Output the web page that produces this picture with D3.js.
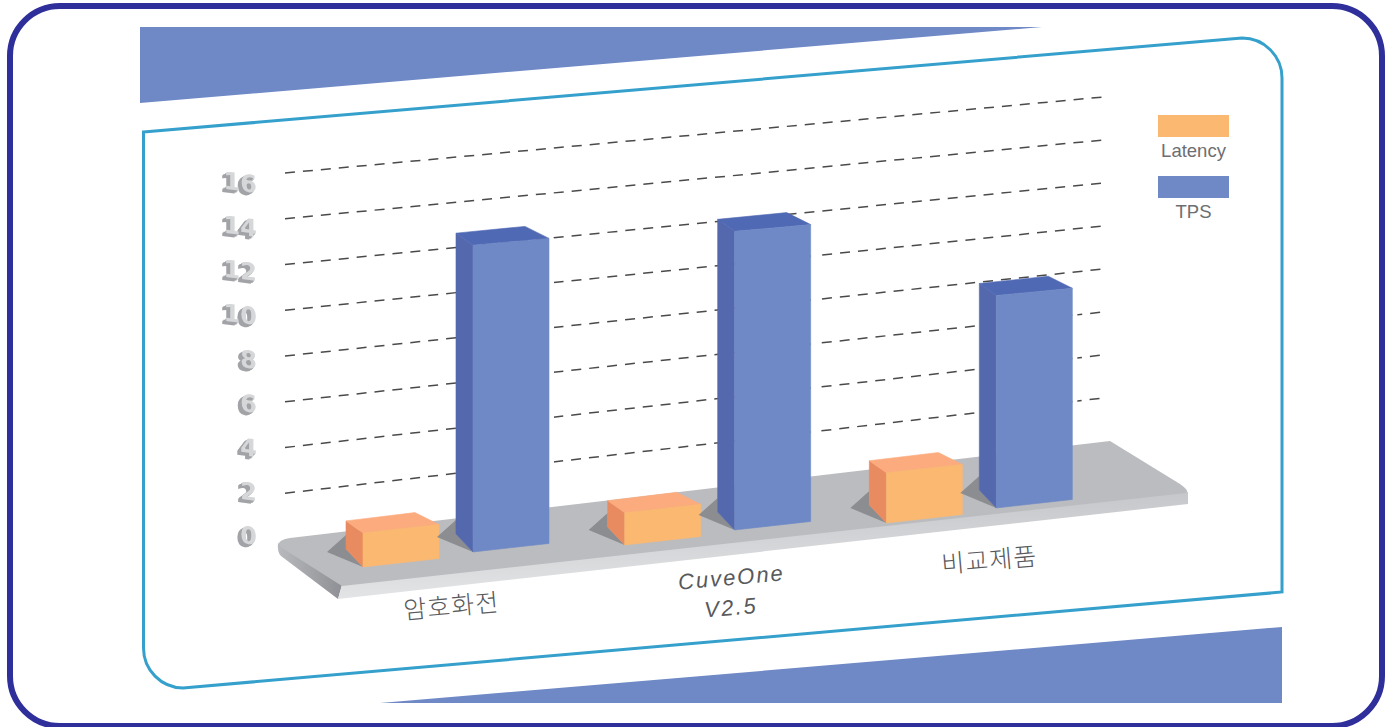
<!DOCTYPE html>
<html lang="ko">
<head>
<meta charset="utf-8">
<script src="https://cdn.jsdelivr.net/npm/d3@7"></script>
<style>
  html, body { margin: 0; padding: 0; background: #fff; }
  svg { display: block; }
  .grid { fill: none; stroke: #4a4a4a; stroke-width: 1.5; stroke-dasharray: 10 8; }
  .cat { font-family: "Noto Sans CJK KR", "Liberation Sans", sans-serif; font-size: 25px; font-weight: 300; fill: #58595b; text-anchor: middle; }
  .legend { font-family: "Liberation Sans", sans-serif; font-size: 18.5px; fill: #6d6e71; text-anchor: middle; }
</style>
</head>
<body>
<svg id="chart" width="1390" height="727"></svg>
<script>
const categories = ["암호화전", "CuveOne V2.5", "비교제품"];
const seriesNames = ["Latency", "TPS"];
const latency = [1.5, 1.45, 2.3];
const tps = [13.6, 13.5, 9.8];
const ticks = [0, 2, 4, 6, 8, 10, 12, 14, 16];

const faces = {
    Latency: { front: "#fbb871", left: "#e88b60", top: "#fbab7d" },
    TPS: { front: "#6f89c6", left: "#5468ad", top: "#5069b5" }
};

const svg = d3.select("#chart");
const poly = d3.line();
const defs = svg.append("defs");

// extruded look for the axis digits, dark copies down to the left
const extrude = defs.append("filter").attr("id", "extrude")
    .attr("x", "-30%").attr("y", "-30%").attr("width", "160%").attr("height", "160%");
const steps = [[-4, 3], [-3, 2], [-2, 2], [-1, 1]];
steps.forEach((s, i) => {
    extrude.append("feOffset").attr("in", "SourceAlpha")
        .attr("dx", s[0]).attr("dy", s[1]).attr("result", "o" + i);
});
extrude.append("feFlood").attr("flood-color", "#a2a3a7").attr("result", "dark");
const depthMerge = extrude.append("feMerge").attr("result", "depth");
steps.forEach((s, i) => depthMerge.append("feMergeNode").attr("in", "o" + i));
extrude.append("feComposite").attr("in", "dark").attr("in2", "depth")
    .attr("operator", "in").attr("result", "side");
const finalMerge = extrude.append("feMerge");
finalMerge.append("feMergeNode").attr("in", "side");
finalMerge.append("feMergeNode").attr("in", "SourceGraphic");

// platform shading
const frontGrad = defs.append("linearGradient").attr("id", "platformFront")
    .attr("x1", 0).attr("y1", 0).attr("x2", 0).attr("y2", 1);
frontGrad.append("stop").attr("offset", "0%").attr("stop-color", "#c6c7ca");
frontGrad.append("stop").attr("offset", "100%").attr("stop-color", "#e3e4e6");
const sideGrad = defs.append("linearGradient").attr("id", "platformSide")
    .attr("x1", 0).attr("y1", 0).attr("x2", 1).attr("y2", 0);
sideGrad.append("stop").attr("offset", "0%").attr("stop-color", "#b8b9bc");
sideGrad.append("stop").attr("offset", "100%").attr("stop-color", "#8f9095");

// frame and decoration
svg.append("rect")
    .attr("x", 10).attr("y", 6).attr("width", 1372).attr("height", 720).attr("rx", 50)
    .attr("fill", "#fff").attr("stroke", "#2f2f9b").attr("stroke-width", 6);

svg.append("path").attr("fill", "#6f89c6")
    .attr("d", poly([[140, 27], [1042, 27], [140, 103]]) + "Z");
svg.append("path").attr("fill", "#6f89c6")
    .attr("d", poly([[380, 703], [1282, 627], [1282, 703]]) + "Z");

svg.append("path")
    .attr("fill", "none").attr("stroke", "#35a0cc").attr("stroke-width", 3)
    .attr("d", "M143.5,132 L1242,38 A40,40 0 0 1 1282,78 L1282,592 L183,688 A40,40 0 0 1 143.5,648 Z");

// the chart leans: values read differently at the left and right end of the grid
const gridX = [285, 1103];
const yLeft = d3.scaleLinear().domain([0, 16]).range([539, 173]);
const yRight = d3.scaleLinear().domain([0, 16]).range([441, 97]);
const unitAt = d3.scaleLinear().domain(gridX)
    .range([yLeft(0) - yLeft(1), yRight(0) - yRight(1)]);

svg.append("g").selectAll("path")
    .data(ticks.filter(d => d > 0))
    .enter()
    .append("path")
    .attr("class", "grid")
    .attr("d", d => poly([[gridX[0], yLeft(d)], [gridX[1], yRight(d)]]));

// y axis
const yLabel = d3.scaleLinear().domain([0, 16]).range([537, 185]);
const yAxis = svg.append("g")
    .attr("transform", "translate(257,0)")
    .attr("filter", "url(#extrude)")
    .call(d3.axisLeft(yLabel).tickValues(ticks).tickSize(0).tickPadding(0));
yAxis.select(".domain").remove();
yAxis.selectAll("text")
    .attr("font-family", "DejaVu Sans")
    .attr("font-weight", "bold")
    .attr("font-size", 24)
    .attr("fill", "#d6d7d9")
    .attr("transform", "skewY(8)");

// platform
svg.append("path").attr("fill", "url(#platformSide)")
    .attr("d", "M278,543 L342,585 L338,599 L281,556 Q277,552 278,543 Z");
svg.append("path").attr("fill", "url(#platformFront)")
    .attr("d", poly([[342, 585], [1188, 492], [1188, 504], [338, 599]]) + "Z");
svg.append("path").attr("fill", "#bbbcbf")
    .attr("d", "M290,538 L1110,441 L1180,484 Q1190,491 1186,493 L342,586 L282,548 Q273,541 290,538 Z");

// bars
const xCat = d3.scaleBand().domain(categories).range([332, 1117]);
const xSeries = d3.scaleBand().domain(seriesNames).range([31, 217]).paddingInner(0.309);
const baseY = d3.scaleLinear().domain([363, 1072]).range([567, 507.4]);
const bw = xSeries.bandwidth();

const bars = [];
categories.forEach((c, i) => {
    bars.push({ cat: c, name: "Latency", value: latency[i] });
    bars.push({ cat: c, name: "TPS", value: tps[i] });
});

const barG = svg.append("g").selectAll("g")
    .data(bars)
    .enter()
    .append("g");

function face(g, pts, color) {
    g.append("path")
        .attr("fill", color)
        .attr("stroke", color)
        .attr("stroke-width", 0.6)
        .attr("d", poly(pts) + "Z");
}

barG.each(function (d) {
    const g = d3.select(this);
    const x0 = xCat(d.cat) + xSeries(d.name);
    const x1 = x0 + bw;
    const b0 = baseY(x0) - (d.name === "TPS" ? 5.8 : 0);
    const b1 = b0 - 8.5;
    const t0 = b0 - d.value * unitAt(x0);
    const t1 = b1 - d.value * unitAt(x1);
    const c = faces[d.name];

    // the grid stops a little short of the bar's right side
    if (d.name === "TPS") {
        g.append("rect").attr("fill", "#fff")
            .attr("x", x1).attr("y", t1).attr("width", 5).attr("height", (b1 - 70) - t1);
    }
    // shadow on the platform
    g.append("path").attr("fill", "#8c8d91")
        .attr("d", poly([[x0 - 36, b0 - 15], [x0 - 17, b0 - 32], [x0 - 17, b0 - 18], [x0, b0]]) + "Z");
    face(g, [[x0, b0], [x0, t0], [x0 - 17, t0 - 12], [x0 - 17, b0 - 18]], c.left);
    face(g, [[x0, t0], [x1, t1], [x1 - 24, t1 - 12], [x0 - 17, t0 - 12]], c.top);
    face(g, [[x0, b0], [x1, b1], [x1, t1], [x0, t0]], c.front);
});

// category labels
svg.append("text").attr("class", "cat")
    .attr("transform", "translate(452,615) rotate(-5)")
    .attr("letter-spacing", 1)
    .text(categories[0]);
const cuve = svg.append("text").attr("class", "cat")
    .attr("transform", "translate(732,585) rotate(-5)")
    .attr("font-style", "italic")
    .attr("letter-spacing", 2)
    .style("font-family", "'Liberation Sans', sans-serif")
    .style("font-size", "22px");
categories[1].split(" ").forEach((t, i) => {
    cuve.append("tspan").attr("x", i ? -3 : 0).attr("dy", i ? 30 : 0).text(t);
});
svg.append("text").attr("class", "cat")
    .attr("transform", "translate(990,569) rotate(-5)")
    .attr("letter-spacing", 1)
    .text(categories[2]);

// legend
const legendY = d3.scalePoint().domain(seriesNames).range([115, 176]);
const legend = svg.append("g").selectAll("g")
    .data(seriesNames)
    .enter()
    .append("g")
    .attr("transform", d => `translate(1158,${legendY(d)})`);
legend.append("rect")
    .attr("width", 71).attr("height", 22)
    .attr("fill", d => faces[d].front);
legend.append("text")
    .attr("class", "legend")
    .attr("x", 35.5).attr("y", 42)
    .text(d => d);
</script>
</body>
</html>
